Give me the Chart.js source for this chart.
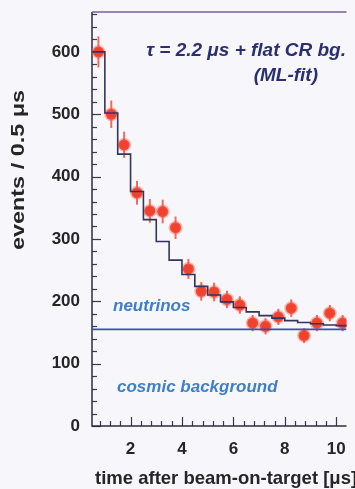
<!DOCTYPE html>
<html>
<head>
<meta charset="utf-8">
<script src="https://cdn.jsdelivr.net/npm/chart.js@4.4.1/dist/chart.umd.min.js"></script>
<style>
  html, body { margin: 0; padding: 0; background: #f7f6fb; }
  #wrap { width: 355px; height: 489px; }
</style>
</head>
<body>
<div id="wrap"><canvas id="muonChart" width="355" height="489"></canvas></div>
<script>
// bin centres (µs), measured counts per 0.5 µs bin, and their errors
const binCenters = [0.75, 1.25, 1.75, 2.25, 2.75, 3.25, 3.75, 4.25, 4.75, 5.25,
                    5.75, 6.25, 6.75, 7.25, 7.75, 8.25, 8.75, 9.25, 9.75, 10.25];
const counts = [600, 500, 451, 374, 345, 344, 318, 252, 216, 215,
                203, 194, 165, 160, 175, 189, 145, 165, 181, 165];
const countErrors = [25, 22, 21, 19, 19, 19, 18, 16, 15, 15,
                     14, 14, 13, 13, 13, 14, 12, 13, 13, 13];

// ML fit (exponential + flat background), one value per bin
const binEdges = [0.5, 1, 1.5, 2, 2.5, 3, 3.5, 4, 4.5, 5, 5.5,
                  6, 6.5, 7, 7.5, 8, 8.5, 9, 9.5, 10, 10.5];
const fitValues = [600, 502, 436, 376, 331, 296, 266, 243, 224, 210,
                   199, 190, 183, 177, 173, 169, 166, 164, 162, 161];
const cosmicLevel = 155;

const xTickLabels = [2, 4, 6, 8, 10];
const yTickLabels = [0, 100, 200, 300, 400, 500, 600];

const X_MIN = 0.5, X_MAX = 10.4;
const Y_MIN = 0, Y_MAX = 664;

const fontFam = '"Liberation Sans", Arial, sans-serif';

// stepped 'after' in Chart.js draws the vertical first, so each bin value
// sits on its right-hand edge
const fitSteps = binEdges.map((e, i) => ({ x: e, y: fitValues[Math.max(i - 1, 0)] }));

// draws background, inward ticks, frame, error bars and text labels
const decorPlugin = {
    id: 'decor',
    beforeDraw(chart) {
        const c = chart.ctx;
        c.save();
        c.fillStyle = '#f7f6fb';
        c.fillRect(0, 0, chart.width, chart.height);
        c.restore();
    },
    beforeDatasetsDraw(chart) {
        const c = chart.ctx;
        const xs = chart.scales.x, ys = chart.scales.y;
        const a = chart.chartArea;
        c.save();
        // ticks on y axis (inward)
        c.strokeStyle = '#3a3a4a';
        c.lineWidth = 1.2;
        for (let v = 0; v <= 660; v += 20) {
            const py = Math.round(ys.getPixelForValue(v)) + 0.5;
            const len = v % 100 === 0 ? 9 : 5;
            c.beginPath();
            c.moveTo(a.left, py);
            c.lineTo(a.left + len, py);
            c.stroke();
        }
        // ticks on x axis (inward)
        for (let v = 0.8; v <= X_MAX; v += 0.4) {
            const r = Math.round(v * 10) / 10;
            const px = Math.round(xs.getPixelForValue(r)) + 0.5;
            const major = Math.abs(r / 2 - Math.round(r / 2)) < 1e-6;
            const len = major ? 9 : 5;
            c.beginPath();
            c.moveTo(px, a.bottom);
            c.lineTo(px, a.bottom - len);
            c.stroke();
        }
        // frame
        c.lineWidth = 1.5;
        c.strokeStyle = '#2e2e40';
        c.beginPath();
        c.moveTo(a.left, a.top);
        c.lineTo(a.left, a.bottom);
        c.lineTo(a.right, a.bottom);
        c.stroke();
        c.strokeStyle = '#7a5c9c';
        c.beginPath();
        c.moveTo(a.left, a.top);
        c.lineTo(a.right, a.top);
        c.stroke();

        // error bars
        c.strokeStyle = 'rgba(238, 60, 45, 0.75)';
        c.lineWidth = 2;
        binCenters.forEach((t, i) => {
            const px = xs.getPixelForValue(t);
            c.beginPath();
            c.moveTo(px, ys.getPixelForValue(counts[i] - countErrors[i]));
            c.lineTo(px, ys.getPixelForValue(counts[i] + countErrors[i]));
            c.stroke();
        });
        c.restore();
    },
    afterDraw(chart) {
        const c = chart.ctx;
        c.save();
        // annotation
        c.fillStyle = '#2b2f72';
        c.font = 'italic bold 19px ' + fontFam;
        c.textAlign = 'right';
        c.textBaseline = 'middle';
        c.fillText('\u03c4 = 2.2 \u03bcs + flat CR bg.', 346, 51);
        c.fillText('(ML-fit)', 318, 76);

        c.fillStyle = '#3d7fc8';
        c.font = 'italic bold 17px ' + fontFam;
        c.textAlign = 'left';
        c.fillText('neutrinos', 113, 306);
        c.fillText('cosmic background', 117, 387);

        // axis titles
        c.fillStyle = '#262626';
        c.font = 'bold 18.5px ' + fontFam;
        c.textAlign = 'left';
        c.textBaseline = 'alphabetic';
        c.fillText('time after beam-on-target [\u03bcs]', 95, 484);

        c.translate(19, 170);
        c.rotate(-Math.PI / 2);
        c.scale(1.3, 1);
        c.font = 'bold 18px ' + fontFam;
        c.textAlign = 'center';
        c.textBaseline = 'middle';
        c.fillText('events / 0.5 \u03bcs', 0, 0);
        c.restore();
    }
};

new Chart(document.getElementById('muonChart').getContext('2d'), {
    type: 'scatter',
    data: {
        datasets: [
            {
                label: 'ML fit',
                data: fitSteps,
                showLine: true,
                stepped: 'after',
                borderColor: '#33355e',
                borderWidth: 1.6,
                pointRadius: 0,
                fill: false
            },
            {
                label: 'cosmic background',
                data: [{ x: X_MIN, y: cosmicLevel }, { x: X_MAX, y: cosmicLevel }],
                showLine: true,
                borderColor: '#3452b4',
                borderWidth: 1.6,
                pointRadius: 0
            },
            {
                label: 'data',
                data: binCenters.map((t, i) => ({ x: t, y: counts[i] })),
                pointRadius: 5.5,
                pointBackgroundColor: '#f0412e',
                pointBorderColor: 'rgba(245, 90, 70, 0.4)',
                pointBorderWidth: 3
            }
        ]
    },
    options: {
        responsive: false,
        animation: false,
        layout: { padding: { top: 12, right: 0, left: 0, bottom: 0 } },
        plugins: {
            legend: { display: false },
            tooltip: { enabled: false }
        },
        scales: {
            x: {
                type: 'linear',
                min: X_MIN,
                max: X_MAX,
                grid: { display: false },
                border: { display: false },
                afterBuildTicks: s => { s.ticks = xTickLabels.map(v => ({ value: v })); },
                afterFit: s => { s.height = 63; s.paddingLeft = 0; s.paddingRight = 0; },
                ticks: {
                    color: '#262626',
                    font: { family: fontFam, weight: 'bold', size: 17 },
                    padding: 5,
                    maxRotation: 0
                }
            },
            y: {
                min: Y_MIN,
                max: Y_MAX,
                grid: { display: false },
                border: { display: false },
                afterBuildTicks: s => { s.ticks = yTickLabels.map(v => ({ value: v })); },
                afterFit: s => { s.width = 92; s.paddingTop = 0; s.paddingBottom = 0; },
                ticks: {
                    color: '#262626',
                    font: { family: fontFam, weight: 'bold', size: 17 },
                    padding: 4
                }
            }
        }
    },
    plugins: [decorPlugin]
});
</script>
</body>
</html>
